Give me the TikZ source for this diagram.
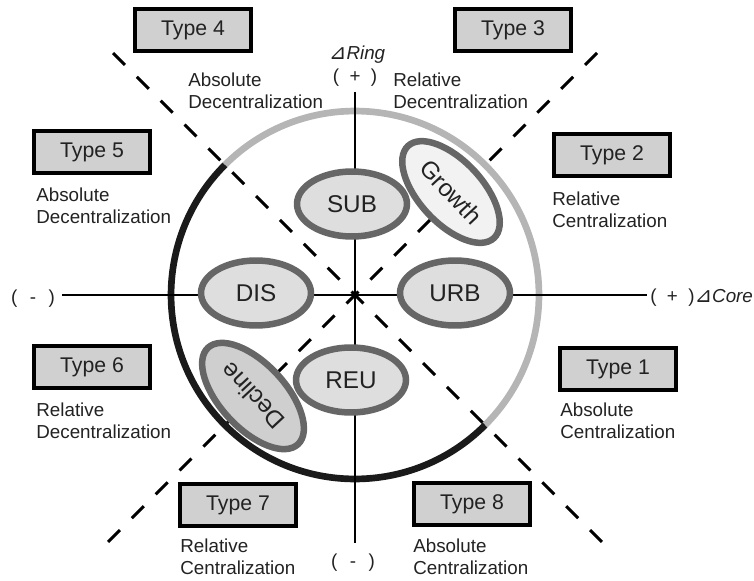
\documentclass[tikz,border=0pt]{standalone}
\usepackage{fontspec}
\setmainfont{Liberation Sans}
\newfontfamily\trifont{DejaVu Sans}
\usetikzlibrary{calc,shapes.geometric}
\definecolor{ringgray}{HTML}{B5B5B5}
\definecolor{ringblack}{HTML}{1A1A1A}
\definecolor{ellline}{HTML}{666666}
\definecolor{ellfill}{HTML}{DEDEDE}
\definecolor{growfill}{HTML}{F2F2F2}
\definecolor{declfill}{HTML}{CFCFCF}
\definecolor{boxfill}{HTML}{D0D0D0}
\definecolor{txt}{HTML}{222222}
\newcommand{\deltri}{{\trifont\itshape\fontsize{12}{12}\selectfont ⊿}}
\newcommand{\plusmark}{(\hspace{0.55em}+\hspace{0.55em})}
\newcommand{\minusmark}{(\hspace{0.66em}-\hspace{0.66em})}
\tikzset{
  typebox/.style={draw=black, line width=1.9pt, fill=boxfill, minimum width=2.32cm,
    minimum height=0.84cm, inner sep=0pt, text=txt, font=\fontsize{12.1}{14}\selectfont},
  typedesc/.style={anchor=west, align=left, inner sep=0pt, text=txt,
    font=\fontsize{10.7}{12.5}\selectfont},
  zone/.style={ellipse, draw=ellline, line width=3.7pt, fill=ellfill, minimum width=2.2cm,
    minimum height=1.3cm, inner sep=0pt, text=txt, font=\fontsize{13.8}{15}\selectfont},
  axislbl/.style={inner sep=0pt, text=txt, font=\fontsize{10.7}{12.5}\selectfont},
  axis/.style={line width=1.7pt},
  diag/.style={line width=1.7pt, dash pattern=on 9.6pt off 9.6pt},
  ring/.style={line width=3.8pt},
}

\begin{document}
\begin{tikzpicture}[x=0.02cm, y=-0.02cm]
  %%%%% FRAME %%%%%
  \useasboundingbox (0,0) rectangle (754,581);
  \coordinate (ctr) at (355,295);

  %%%%% DIAGONALS %%%%%
  \coordinate (dgnw) at (113,53);
  \coordinate (dgse) at (608,548);
  \coordinate (dgne) at (597,53);
  \coordinate (dgsw) at (102,548);
  \draw[diag] (dgnw) -- (dgse);
  \draw[diag] (dgne) -- (dgsw);

  %%%%% RING %%%%%
  \draw[ring, ringgray] ($(ctr)+(135:3.68cm)$) arc[start angle=135, end angle=-45, radius=3.68cm];
  \draw[ring, ringblack] ($(ctr)+(135:3.68cm)$) arc[start angle=135, end angle=315, radius=3.68cm];

  %%%%% AXES %%%%%
  \node[axislbl] (ringplus) at (355,78) {\plusmark};
  \node[axislbl] (ringname) at (357,55) {\deltri\textit{Ring}};
  \node[axislbl] (ringminus) at (353,563) {\minusmark};
  \node[axislbl] (coreminus) at (33,299) {\minusmark};
  \node[axislbl, anchor=west] (coreplus) at (650,298) {\plusmark\deltri\textit{Core}};
  \coordinate (axtop) at (355,92);
  \coordinate (axbot) at (355,543);
  \coordinate (axleft) at (62,295);
  \coordinate (axright) at (647,295);
  \draw[axis] (axtop) -- (axbot);
  \draw[axis] (axleft) -- (axright);

  %%%%% ZONES %%%%%
  \node[zone] (sub) at (352,204) {SUB};
  \node[zone] (dis) at (256,293) {DIS};
  \node[zone] (urb) at (455,293) {URB};
  \node[zone] (reu) at (351,380) {REU};
  \node[zone, fill=growfill, minimum width=2.52cm, minimum height=1.26cm, rotate=-47] (growth) at (451,192) {Growth};
  \node[zone, fill=declfill, minimum width=2.64cm, minimum height=1.3cm, rotate=133] (decline) at (253,396) {Decline};

  %%%%% TYPES %%%%%
  \node[typebox] (type4) at (193,30) {Type 4};
  \node[typebox] (type3) at (513,30) {Type 3};
  \node[typebox] (type5) at (92,152) {Type 5};
  \node[typebox] (type2) at (612,155) {Type 2};
  \node[typebox] (type6) at (92,367) {Type 6};
  \node[typebox] (type1) at (618,369) {Type 1};
  \node[typebox] (type7) at (238,505) {Type 7};
  \node[typebox] (type8) at (472,504) {Type 8};

  \node[typedesc] (desc4) at (188,91) {Absolute\\Decentralization};
  \node[typedesc] (desc3) at (393,91) {Relative\\Decentralization};
  \node[typedesc] (desc5) at (36,206) {Absolute\\Decentralization};
  \node[typedesc] (desc2) at (552,210) {Relative\\Centralization};
  \node[typedesc] (desc6) at (36,421) {Relative\\Decentralization};
  \node[typedesc] (desc1) at (560,421) {Absolute\\Centralization};
  \node[typedesc] (desc7) at (180,557) {Relative\\Centralization};
  \node[typedesc] (desc8) at (413,557) {Absolute\\Centralization};
\end{tikzpicture}
\end{document}
